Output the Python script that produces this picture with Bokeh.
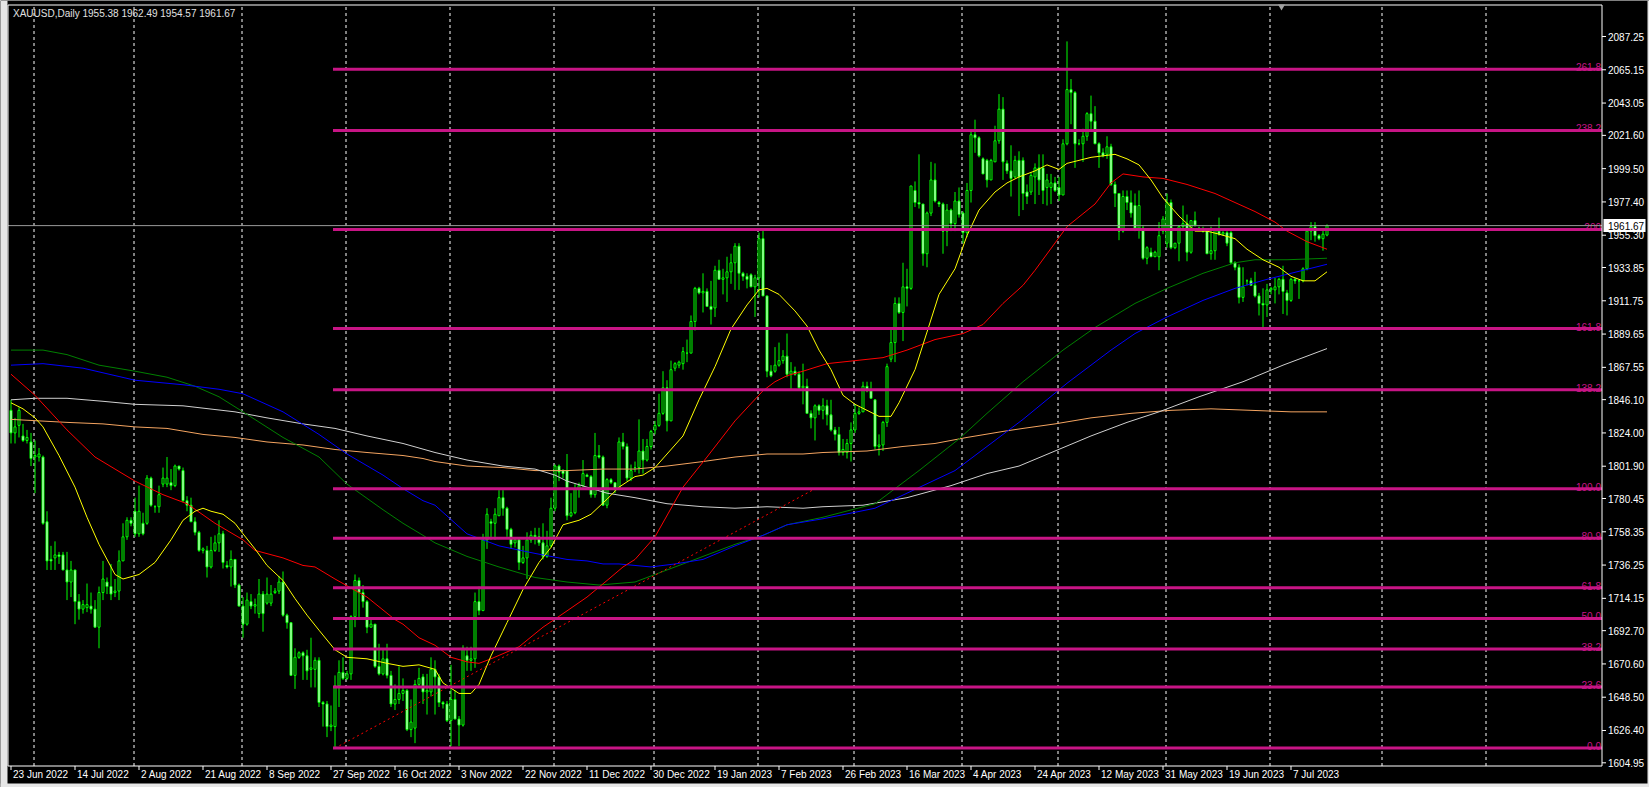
from bokeh.plotting import figure
from bokeh.models import Range1d
from bokeh.embed import file_html
from bokeh.resources import INLINE
from bokeh.core.properties import value

SYMBOL = "XAUUSD,Daily"

OPEN = [
    1839, 1824, 1829, 1822, 1819, 1818, 1808, 1808, 1808, 1765,
    1740, 1741, 1743, 1743, 1733, 1725, 1733, 1712, 1707, 1708,
    1709, 1707, 1695, 1718, 1725, 1722, 1718, 1719, 1739, 1755,
    1766, 1772, 1757, 1764, 1764, 1794, 1775, 1775, 1790, 1790,
    1791, 1789, 1802, 1799, 1779, 1776, 1765, 1758, 1746, 1746,
    1735, 1746, 1751, 1757, 1736, 1735, 1740, 1723, 1709, 1697,
    1712, 1709, 1704, 1717, 1711, 1711, 1718, 1719, 1725, 1703,
    1698, 1663, 1675, 1678, 1676, 1667, 1667, 1673, 1645, 1644,
    1629, 1629, 1656, 1665, 1661, 1664, 1702, 1726, 1718, 1712,
    1695, 1697, 1669, 1664, 1674, 1663, 1644, 1647, 1651, 1653,
    1627, 1628, 1657, 1662, 1652, 1652, 1667, 1662, 1645, 1644,
    1633, 1647, 1634, 1630, 1676, 1673, 1674, 1712, 1706, 1753,
    1765, 1764, 1769, 1781, 1774, 1760, 1751, 1753, 1738, 1741,
    1753, 1756, 1755, 1751, 1742, 1749, 1774, 1802, 1799, 1799,
    1769, 1771, 1787, 1789, 1796, 1795, 1783, 1809, 1808, 1776,
    1793, 1791, 1787, 1818, 1815, 1794, 1801, 1801, 1812, 1806,
    1815, 1826, 1829, 1837, 1854, 1832, 1867, 1869, 1870, 1877,
    1877, 1898, 1920, 1917, 1918, 1908, 1907, 1932, 1926, 1927,
    1931, 1937, 1948, 1930, 1928, 1929, 1921, 1927, 1953, 1915,
    1865, 1865, 1869, 1872, 1875, 1863, 1865, 1863, 1854, 1855,
    1837, 1834, 1842, 1839, 1842, 1836, 1826, 1823, 1811, 1811,
    1817, 1826, 1837, 1838, 1855, 1852, 1846, 1815, 1816, 1831,
    1873, 1884, 1910, 1904, 1921, 1920, 1985, 1977, 1976, 1943,
    1970, 1992, 1977, 1976, 1958, 1972, 1963, 1978, 1970, 1957,
    1985, 2022, 2020, 2006, 2005, 1992, 2004, 2018, 2039, 2003,
    1998, 1994, 2005, 2005, 1984, 1984, 1994, 2000, 2000, 1987,
    1987, 1990, 1987, 1982, 2016, 2052, 2050, 2016, 2016, 2021,
    2036, 2031, 2016, 2010, 2009, 2014, 1989, 1983, 1958, 1981,
    1977, 1975, 1960, 1960, 1940, 1944, 1941, 1941, 1958, 1950,
    1977, 1947, 1950, 1961, 1963, 1944, 1965, 1960, 1959, 1959,
    1943, 1945, 1958, 1956, 1957, 1957, 1937, 1934, 1914, 1925,
    1925, 1922, 1915, 1910, 1909, 1919, 1919, 1921, 1926, 1917,
    1912, 1926, 1925, 1925, 1933, 1958, 1961, 1955, 1953, 1955.38,
]
HIGH = [
    1846, 1834, 1841, 1830, 1826, 1824, 1819, 1814, 1809, 1772,
    1749, 1752, 1745, 1745, 1745, 1739, 1733, 1717, 1713, 1724,
    1718, 1713, 1722, 1739, 1728, 1737, 1727, 1746, 1764, 1768,
    1768, 1781, 1789, 1771, 1796, 1795, 1776, 1789, 1801, 1808,
    1800, 1803, 1802, 1801, 1782, 1781, 1768, 1759, 1748, 1749,
    1755, 1756, 1766, 1759, 1739, 1746, 1740, 1724, 1715, 1718,
    1717, 1714, 1727, 1719, 1728, 1723, 1721, 1729, 1732, 1704,
    1698, 1681, 1679, 1679, 1680, 1688, 1675, 1675, 1646, 1646,
    1643, 1663, 1673, 1675, 1666, 1703, 1730, 1728, 1723, 1713,
    1701, 1697, 1684, 1680, 1684, 1666, 1657, 1669, 1661, 1654,
    1647, 1660, 1668, 1664, 1664, 1675, 1673, 1664, 1646, 1646,
    1670, 1653, 1636, 1683, 1682, 1682, 1718, 1722, 1757, 1774,
    1767, 1774, 1786, 1786, 1775, 1761, 1753, 1754, 1749, 1758,
    1759, 1761, 1761, 1764, 1759, 1781, 1803, 1803, 1800, 1810,
    1784, 1790, 1791, 1806, 1797, 1796, 1824, 1816, 1809, 1794,
    1794, 1791, 1821, 1824, 1817, 1803, 1805, 1833, 1820, 1820,
    1826, 1832, 1850, 1865, 1859, 1872, 1871, 1872, 1881, 1886,
    1902, 1921, 1921, 1930, 1920, 1925, 1935, 1939, 1933, 1941,
    1943, 1950, 1950, 1931, 1930, 1930, 1929, 1957, 1959, 1915,
    1869, 1881, 1884, 1879, 1890, 1871, 1868, 1865, 1870, 1860,
    1839, 1843, 1843, 1847, 1846, 1846, 1828, 1828, 1820, 1820,
    1831, 1843, 1841, 1858, 1858, 1858, 1846, 1823, 1832, 1870,
    1894, 1914, 1914, 1937, 1933, 1988, 1991, 2009, 1976, 1971,
    2004, 2003, 1978, 1977, 1976, 1973, 1984, 1987, 1971, 1990,
    2025, 2032, 2021, 2007, 2006, 2006, 2028, 2049, 2047, 2005,
    2015, 2008, 2011, 2007, 1989, 1997, 2003, 2009, 2009, 1996,
    1996, 1994, 1994, 2019, 2084, 2059, 2051, 2019, 2026, 2037,
    2048, 2041, 2017, 2013, 2021, 2016, 1991, 1983, 1985, 1985,
    1985, 1983, 1985, 1962, 1948, 1947, 1945, 1964, 1968, 1983,
    1979, 1950, 1962, 1975, 1969, 1965, 1971, 1961, 1961, 1959,
    1961, 1959, 1967, 1958, 1958, 1958, 1938, 1936, 1934, 1926,
    1927, 1931, 1917, 1920, 1923, 1921, 1927, 1927, 1935, 1919,
    1927, 1927, 1926, 1934, 1958, 1964, 1964, 1956, 1959, 1962.49,
]
LOW = [
    1817, 1817, 1821, 1818, 1817, 1802, 1784, 1805, 1763, 1733,
    1733, 1733, 1737, 1733, 1713, 1715, 1697, 1700, 1704, 1705,
    1704, 1695, 1681, 1713, 1717, 1713, 1715, 1713, 1739, 1753,
    1762, 1755, 1755, 1756, 1763, 1775, 1771, 1771, 1788, 1788,
    1786, 1788, 1799, 1778, 1772, 1765, 1756, 1745, 1744, 1728,
    1734, 1745, 1745, 1734, 1734, 1722, 1721, 1709, 1688, 1696,
    1707, 1704, 1701, 1692, 1710, 1709, 1717, 1717, 1702, 1694,
    1663, 1654, 1674, 1660, 1660, 1655, 1655, 1642, 1629, 1622,
    1626, 1615, 1642, 1660, 1660, 1660, 1695, 1701, 1708, 1691,
    1695, 1668, 1663, 1663, 1661, 1642, 1640, 1644, 1646, 1626,
    1622, 1618, 1655, 1644, 1637, 1649, 1637, 1642, 1641, 1632,
    1616, 1634, 1616, 1629, 1666, 1666, 1668, 1703, 1706, 1747,
    1753, 1753, 1769, 1769, 1755, 1747, 1748, 1733, 1737, 1727,
    1751, 1750, 1749, 1740, 1741, 1748, 1772, 1792, 1794, 1766,
    1768, 1770, 1781, 1788, 1795, 1781, 1781, 1807, 1776, 1774,
    1790, 1784, 1786, 1813, 1792, 1792, 1798, 1797, 1797, 1805,
    1813, 1823, 1828, 1836, 1825, 1832, 1865, 1867, 1866, 1871,
    1877, 1892, 1916, 1904, 1908, 1896, 1901, 1926, 1916, 1911,
    1923, 1919, 1919, 1925, 1920, 1921, 1901, 1914, 1915, 1861,
    1861, 1864, 1868, 1870, 1861, 1853, 1862, 1853, 1843, 1837,
    1827, 1819, 1836, 1833, 1829, 1825, 1819, 1809, 1809, 1807,
    1805, 1824, 1836, 1838, 1851, 1847, 1813, 1809, 1812, 1828,
    1871, 1871, 1903, 1885, 1908, 1919, 1974, 1973, 1935, 1934,
    1968, 1977, 1974, 1943, 1948, 1958, 1958, 1967, 1950, 1954,
    1977, 2010, 2007, 1996, 1987, 1992, 2004, 2016, 1992, 1996,
    1981, 1993, 1968, 1972, 1976, 1982, 1976, 1982, 1976, 1975,
    1976, 1984, 1978, 1982, 2015, 2029, 2000, 2015, 2004, 2018,
    2025, 2016, 2000, 2007, 2006, 1988, 1974, 1952, 1957, 1972,
    1967, 1958, 1953, 1939, 1936, 1941, 1941, 1932, 1956, 1947,
    1946, 1946, 1938, 1958, 1938, 1943, 1961, 1958, 1957, 1943,
    1939, 1939, 1955, 1955, 1948, 1936, 1932, 1910, 1911, 1922,
    1922, 1914, 1902, 1893, 1901, 1916, 1910, 1916, 1903, 1902,
    1911, 1923, 1913, 1924, 1932, 1952, 1951, 1952, 1945, 1954.57,
]
CLOSE = [
    1824, 1828, 1839, 1819, 1821, 1807, 1809, 1810, 1764, 1739,
    1739, 1743, 1742, 1733, 1725, 1733, 1712, 1707, 1710, 1710,
    1707, 1695, 1718, 1727, 1722, 1717, 1719, 1739, 1755, 1766,
    1764, 1757, 1772, 1757, 1794, 1776, 1775, 1783, 1794, 1794,
    1789, 1802, 1800, 1779, 1776, 1765, 1758, 1746, 1747, 1735,
    1746, 1751, 1757, 1738, 1735, 1740, 1723, 1709, 1697, 1713,
    1709, 1710, 1717, 1704, 1717, 1717, 1719, 1725, 1703, 1698,
    1663, 1675, 1678, 1676, 1666, 1668, 1673, 1645, 1644, 1629,
    1630, 1656, 1665, 1661, 1664, 1702, 1726, 1718, 1712, 1695,
    1697, 1669, 1664, 1674, 1663, 1644, 1647, 1651, 1653, 1627,
    1632, 1657, 1661, 1652, 1653, 1667, 1662, 1645, 1644, 1633,
    1647, 1634, 1630, 1681, 1673, 1674, 1712, 1706, 1753, 1770,
    1764, 1770, 1781, 1774, 1760, 1750, 1753, 1738, 1741, 1753,
    1756, 1755, 1751, 1742, 1749, 1774, 1802, 1798, 1797, 1769,
    1771, 1787, 1789, 1797, 1795, 1783, 1809, 1808, 1776, 1793,
    1791, 1787, 1818, 1815, 1794, 1799, 1801, 1812, 1806, 1815,
    1825, 1829, 1837, 1854, 1832, 1866, 1870, 1871, 1878, 1877,
    1898, 1920, 1917, 1918, 1908, 1906, 1932, 1926, 1927, 1931,
    1937, 1948, 1930, 1928, 1926, 1921, 1927, 1953, 1915, 1865,
    1862, 1869, 1872, 1875, 1863, 1865, 1863, 1854, 1855, 1837,
    1834, 1842, 1839, 1842, 1836, 1826, 1823, 1811, 1813, 1817,
    1826, 1837, 1838, 1855, 1852, 1847, 1815, 1816, 1831, 1868,
    1884, 1910, 1904, 1921, 1920, 1988, 1977, 1976, 1943, 1970,
    1992, 1978, 1976, 1958, 1972, 1963, 1978, 1969, 1957, 1985,
    2022, 2020, 2008, 1996, 1992, 2005, 2018, 2039, 2004, 1998,
    1993, 2005, 1994, 1983, 1981, 1995, 2000, 1992, 1985, 1992,
    1990, 1985, 1982, 2016, 2052, 2050, 2016, 2016, 2021, 2036,
    2031, 2016, 2010, 2008, 2014, 1989, 1983, 1958, 1981, 1977,
    1970, 1960, 1975, 1940, 1947, 1941, 1944, 1955, 1966, 1977,
    1947, 1950, 1961, 1963, 1944, 1965, 1962, 1959, 1958, 1943,
    1945, 1959, 1956, 1957, 1950, 1937, 1934, 1914, 1921, 1925,
    1922, 1915, 1910, 1909, 1919, 1920, 1921, 1926, 1918, 1912,
    1926, 1925, 1925, 1933, 1958, 1961, 1955, 1953, 1956, 1961.67,
]

# moving averages (bar index, value)
YELLOW_X = [0, 3, 6, 8, 12, 16, 19, 22, 26, 28, 32, 36, 40, 43, 46, 48, 50, 53, 56, 58,
            61, 64, 68, 71, 74, 77, 81, 84, 89, 94, 98, 102, 106, 108, 112, 115, 117, 120, 124, 128,
            132, 135, 138, 142, 145, 149, 152, 156, 158, 161, 164, 168, 172, 176, 180, 184, 187, 189, 192, 196,
            199, 202, 205, 208, 211, 214, 217, 220, 222, 226, 229, 232, 236, 239, 242, 246, 249, 252, 256, 259,
            262, 264, 267, 270, 273, 276, 279, 282, 285, 288, 292, 296, 299, 302, 306, 309, 313, 317, 320, 323,
            326, 329]
YELLOW_Y = [1844, 1840, 1834, 1828, 1809, 1788, 1768, 1750, 1730, 1727, 1730, 1738, 1753, 1766, 1772, 1774, 1772, 1770, 1764, 1757,
            1747, 1736, 1726, 1714, 1703, 1693, 1680, 1675, 1674, 1671, 1669, 1670, 1667, 1658, 1651, 1651, 1657, 1676, 1698, 1720,
            1738, 1748, 1763, 1766, 1770, 1780, 1788, 1795, 1796, 1801, 1810, 1822, 1846, 1868, 1893, 1909, 1919, 1920, 1916, 1905,
            1895, 1879, 1866, 1849, 1843, 1839, 1835, 1835, 1844, 1866, 1891, 1916, 1933, 1955, 1972, 1984, 1990, 1994, 1998, 2002,
            1999, 2003, 2005, 2007, 2008, 2009, 2006, 2002, 1992, 1980, 1968, 1958, 1958, 1956, 1953, 1946, 1939, 1934, 1928, 1925,
            1925, 1931]

RED_X = [0, 6, 14, 21, 31, 38, 44, 51, 58, 61, 68, 73, 76, 81, 89, 96, 98, 102, 106, 110,
         114, 117, 120, 127, 133, 138, 144, 149, 153, 156, 161, 168, 174, 181, 188, 191, 194, 198, 204, 211,
         218, 224, 231, 238, 243, 248, 253, 256, 264, 271, 275, 278, 283, 288, 294, 301, 306, 311, 316, 319,
         324, 329]
RED_Y = [1863, 1849, 1826, 1808, 1792, 1783, 1777, 1764, 1753, 1746, 1741, 1736, 1735, 1727, 1715, 1700, 1697, 1688, 1683, 1675,
         1672, 1671, 1674, 1682, 1695, 1704, 1715, 1726, 1735, 1740, 1755, 1788, 1808, 1832, 1852, 1858, 1862, 1865, 1870, 1872,
         1874, 1879, 1886, 1890, 1896, 1910, 1922, 1932, 1961, 1976, 1990, 1996, 1994, 1993, 1989, 1983, 1977, 1971, 1964, 1958,
         1951, 1946]

GREEN_X = [0, 8, 14, 22, 31, 39, 46, 52, 58, 68, 77, 84, 93, 98, 103, 106, 114, 122, 131, 139,
           147, 156, 164, 171, 181, 188, 194, 203, 216, 227, 237, 244, 253, 263, 271, 281, 289, 298, 306, 311,
           319, 329]
GREEN_Y = [1879, 1879, 1876, 1869, 1865, 1861, 1855, 1848, 1838, 1821, 1808, 1790, 1773, 1764, 1756, 1751, 1742, 1735, 1728, 1725,
           1723, 1725, 1733, 1740, 1750, 1756, 1763, 1768, 1777, 1799, 1820, 1837, 1858, 1879, 1894, 1910, 1920, 1930, 1937, 1939,
           1939, 1940]

BLUE_X = [0, 8, 18, 31, 43, 52, 58, 68, 77, 84, 93, 98, 103, 106, 114, 122, 131, 139, 144, 148,
          152, 160, 166, 173, 181, 188, 194, 203, 216, 236, 244, 253, 264, 275, 281, 289, 298, 306, 314, 323,
          329]
BLUE_Y = [1869, 1870, 1867, 1859, 1856, 1853, 1850, 1838, 1823, 1810, 1796, 1787, 1779, 1776, 1757, 1749, 1744, 1740, 1739, 1737,
          1737, 1735, 1737, 1740, 1749, 1756, 1763, 1767, 1774, 1799, 1815, 1833, 1857, 1879, 1890, 1901, 1912, 1920, 1926, 1932,
          1936]

WHITE_X = [0, 6, 14, 23, 31, 43, 56, 64, 73, 81, 89, 98, 106, 114, 123, 131, 136, 139, 144, 149,
           156, 164, 173, 181, 189, 198, 203, 213, 224, 235, 244, 252, 261, 270, 279, 287, 297, 308, 318, 329]
WHITE_Y = [1846, 1847, 1847, 1845, 1843, 1842, 1838, 1834, 1830, 1827, 1822, 1817, 1811, 1806, 1802, 1800, 1796, 1792, 1788, 1784,
           1781, 1777, 1775, 1774, 1775, 1774, 1775, 1776, 1781, 1789, 1797, 1802, 1812, 1822, 1831, 1838, 1848, 1858, 1869, 1880]

ORANGE_X = [0, 14, 23, 31, 39, 48, 56, 64, 73, 81, 89, 98, 103, 106, 114, 123, 131, 139, 148, 156,
            164, 173, 181, 189, 198, 203, 214, 223, 231, 239, 248, 253, 261, 270, 280, 290, 300, 310, 320, 329]
ORANGE_Y = [1833, 1831, 1830, 1828, 1827, 1823, 1821, 1818, 1816, 1813, 1811, 1809, 1807, 1805, 1802, 1801, 1799, 1799, 1800, 1800,
            1802, 1805, 1808, 1810, 1810, 1811, 1812, 1815, 1817, 1821, 1825, 1827, 1830, 1834, 1837, 1839, 1840, 1839, 1838, 1838]

DATE_BARS = [0, 16, 32, 48, 64, 80, 96, 112, 128, 144, 160, 176, 192, 208, 224, 240, 256, 272, 288, 304, 320]
DATE_LABELS = ["23 Jun 2022", "14 Jul 2022", "2 Aug 2022", "21 Aug 2022", "8 Sep 2022", "27 Sep 2022",
               "16 Oct 2022", "3 Nov 2022", "22 Nov 2022", "11 Dec 2022", "30 Dec 2022", "19 Jan 2023",
               "7 Feb 2023", "26 Feb 2023", "16 Mar 2023", "4 Apr 2023", "24 Apr 2023", "12 May 2023",
               "31 May 2023", "19 Jun 2023", "7 Jul 2023"]
MONTH_START_BARS = [6, 31, 58, 84, 110, 136, 161, 187, 211, 238, 262, 289, 315, 343, 369]

PRICE_TICKS = [2087.25, 2065.15, 2043.05, 2021.60, 1999.50, 1977.40, 1955.30, 1933.85, 1911.75,
               1889.65, 1867.55, 1846.10, 1824.00, 1801.90, 1780.45, 1758.35, 1736.25, 1714.15,
               1692.70, 1670.60, 1648.50, 1626.40, 1604.95]

FIB_RATIOS = [0.0, 23.6, 38.2, 50.0, 61.8, 80.9, 100.0, 138.2, 161.8, 200.0, 238.2, 261.8]
FIB_TEXT = ["0.0", "23.6", "38.2", "50.0", "61.8", "80.9", "100.0", "138.2", "161.8", "200", "238.2", "261.8"]
FIB_LOW, FIB_HIGH = 1614.7, 1786.9
FIB_BAR0, FIB_BAR1 = 81, 201

# ---------------------------------------------------------------- pixel layout
W, H = 1649, 787
BAR0_PX, PX_PER_BAR = 10.5, 4.0            # bar 0 centre, bar spacing
P_REF, PY_REF = 2087.25, 36.0              # price/pixel calibration of the price scale
PX_PER_USD = 726.3 / 482.3


def xd(px):
    return (px - BAR0_PX) / PX_PER_BAR


def yd(py):
    return P_REF - (py - PY_REF) / PX_PER_USD


FONT = value("Liberation Sans")
FS = "10px"
FIB_COLOR = "#C71585"
CL, CR = xd(7.5), xd(1601.5)     # chart frame
CT, CB = yd(4.5), yd(765.5)

p = figure(width=W, height=H, x_range=Range1d(xd(0), xd(W)), y_range=Range1d(yd(H), yd(0)),
           output_backend="svg", toolbar_location=None,
           x_axis_location=None, y_axis_location=None,
           min_border=0, min_border_left=0, min_border_right=0, min_border_top=0, min_border_bottom=0,
           background_fill_color="black", border_fill_color="black", outline_line_color=None)
p.grid.visible = False

# window chrome
p.quad(left=[xd(0), xd(1647), xd(0)], right=[xd(7), xd(W), xd(W)],
       top=[yd(0), yd(0), yd(783)], bottom=[yd(H), yd(H), yd(H)],
       fill_color="#E6E6E6", line_color=None)

# vertical dashed grid at month starts
gx = [b - 0.25 for b in MONTH_START_BARS]
p.segment(x0=gx, x1=gx, y0=[CB] * len(gx), y1=[CT] * len(gx),
          line_color="white", line_dash="3 3", line_width=1)

# candles
n = len(CLOSE)
xs = list(range(n))
tops = [max(o, c) for o, c in zip(OPEN, CLOSE)]
bots = [min(o, c) for o, c in zip(OPEN, CLOSE)]
fills = ["black" if c >= o else "white" for o, c in zip(OPEN, CLOSE)]
p.segment(x0=xs, y0=LOW, x1=xs, y1=HIGH, line_color="#00FF00", line_width=1)
p.vbar(x=xs, width=0.5, top=tops, bottom=bots, fill_color=fills,
       line_color="#00FF00", line_width=1)

# moving averages
for mx, my, col in [(ORANGE_X, ORANGE_Y, "#F4A460"), (WHITE_X, WHITE_Y, "#D0D0D0"),
                    (GREEN_X, GREEN_Y, "#008000"), (BLUE_X, BLUE_Y, "#0000FF"),
                    (RED_X, RED_Y, "#FF0000"), (YELLOW_X, YELLOW_Y, "#FFFF00")]:
    p.line(mx, my, line_color=col, line_width=1)

# fibonacci retracement
fib_levels = [FIB_LOW + r / 100.0 * (FIB_HIGH - FIB_LOW) for r in FIB_RATIOS]
p.line([FIB_BAR0, FIB_BAR1], [FIB_LOW, FIB_HIGH], line_color="#FF0000",
       line_dash="2 3", line_width=1)
nf = len(fib_levels)
p.segment(x0=[FIB_BAR0 - 0.5] * nf, x1=[CR] * nf, y0=fib_levels, y1=fib_levels,
          line_color=FIB_COLOR, line_width=3)
p.text(x=[CR] * nf, y=[v + 2.0 / PX_PER_USD for v in fib_levels], text=FIB_TEXT,
       x_offset=-1, text_align="right", text_baseline="alphabetic",
       text_color=FIB_COLOR, text_font=FONT, text_font_size=FS)

# current price line
last = CLOSE[-1]
p.segment(x0=[CL], x1=[CR], y0=[last], y1=[last], line_color="#9A9A9A", line_width=1)

# chart frame
p.segment(x0=[CL, CR, CL, CL], y0=[CT, CT, CB, CT], x1=[CR, CR, CR, CL], y1=[CT, CB, CB, CB],
          line_color="white", line_width=1)

# chart-shift marker at top
p.scatter(x=[xd(1281)], y=[yd(6)], marker="inverted_triangle", size=7,
          fill_color="#A0A0A0", line_color=None)

# price scale
nt = len(PRICE_TICKS)
p.segment(x0=[CR] * nt, x1=[xd(1605.5)] * nt, y0=PRICE_TICKS, y1=PRICE_TICKS,
          line_color="white", line_width=1)
p.text(x=[xd(1607.5)] * nt, y=PRICE_TICKS, text=[f"{v:.2f}" for v in PRICE_TICKS],
       text_align="left", text_baseline="middle", text_color="white",
       text_font=FONT, text_font_size=FS)

# current price tag
half = 6.5 / PX_PER_USD
p.quad(left=[xd(1603)], right=[xd(1645)], top=[last + half], bottom=[last - half],
       fill_color="white", line_color=None)
p.text(x=[xd(1607.5)], y=[last], text=[f"{last:.2f}"], text_align="left", text_baseline="middle",
       text_color="black", text_font=FONT, text_font_size=FS)

# time scale
nd = len(DATE_BARS)
p.segment(x0=DATE_BARS, x1=DATE_BARS, y0=[CB] * nd, y1=[yd(769.5)] * nd,
          line_color="white", line_width=1)
p.text(x=DATE_BARS, y=[yd(768)] * nd, text=DATE_LABELS, x_offset=2,
       text_align="left", text_baseline="top", text_color="white",
       text_font=FONT, text_font_size=FS)

# header
title = f"{SYMBOL}  {OPEN[-1]:.2f} {HIGH[-1]:.2f} {LOW[-1]:.2f} {CLOSE[-1]:.2f}"
p.text(x=[xd(12.5)], y=[yd(7)], text=[title], text_align="left", text_baseline="top",
       text_color="#E0E0E0", text_font=FONT, text_font_size=FS)

open("out.html", "w").write(file_html(p, INLINE))
